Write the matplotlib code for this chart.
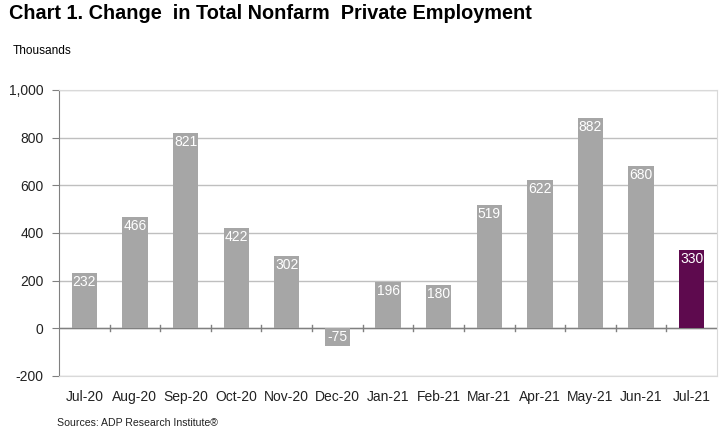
import numpy as np
import matplotlib.pyplot as plt

months = ['Jul-20', 'Aug-20', 'Sep-20', 'Oct-20', 'Nov-20', 'Dec-20', 'Jan-21',
          'Feb-21', 'Mar-21', 'Apr-21', 'May-21', 'Jun-21', 'Jul-21']
change = [232, 466, 821, 422, 302, -75, 196, 180, 519, 622, 882, 680, 330]
y_ticks = [-200, 0, 200, 400, 600, 800, 1000]

plt.rcParams['font.family'] = ['Liberation Sans', 'DejaVu Sans']

fig = plt.figure(figsize=(7.26, 4.4), dpi=100)
ax = fig.add_axes([0.0813, 0.1455, 0.9063, 0.65])

x = np.arange(len(months))
colors = ['#A6A6A6'] * (len(months) - 1) + ['#5E0A4E']
bars = ax.bar(x, change, width=0.5, color=colors, zorder=3)

# etiquetas blancas dentro de la barra, arriba
for xi, v in zip(x, change):
    top = v if v >= 0 else 0
    ax.text(xi, top - 8, str(v), ha='center', va='top', color='white',
            fontsize=10, zorder=4)

ax.set_xlim(-0.5, len(months) - 0.5)
ax.set_ylim(-200, 1000)
ax.set_yticks(y_ticks)
ax.set_yticklabels([f'{t:,}' for t in y_ticks], fontsize=10, color='#222222')
ax.yaxis.grid(True, color='#BFBFBF', linewidth=1, zorder=0)
ax.tick_params(axis='y', direction='out', length=5, color='#808080', pad=6)

# eje x en cero con marcas entre categorias
ax.axhline(0, color='#808080', linewidth=1, zorder=2)
ax.set_xticks(x)
ax.set_xticklabels(months, fontsize=10, color='#222222')
ax.tick_params(axis='x', length=0, pad=10)
for b in np.arange(0.5, len(months) - 0.5, 1):
    ax.plot([b, b], [-12, 12], color='#808080', linewidth=1, zorder=2)

for side in ['top', 'right', 'bottom']:
    ax.spines[side].set_color('#D9D9D9')
ax.spines['left'].set_color('#808080')

fig.text(0.012, 0.99, 'Chart 1. Change  in Total Nonfarm  Private Employment',
         fontsize=14.3, fontweight='bold', va='top', ha='left')
fig.text(0.018, 0.885, 'Thousands', fontsize=8.6, va='center', ha='left')
fig.text(0.079, 0.038, 'Sources: ADP Research Institute®', fontsize=7.6,
         va='center', ha='left', color='#222222')

fig.savefig('out.png', dpi=100)
